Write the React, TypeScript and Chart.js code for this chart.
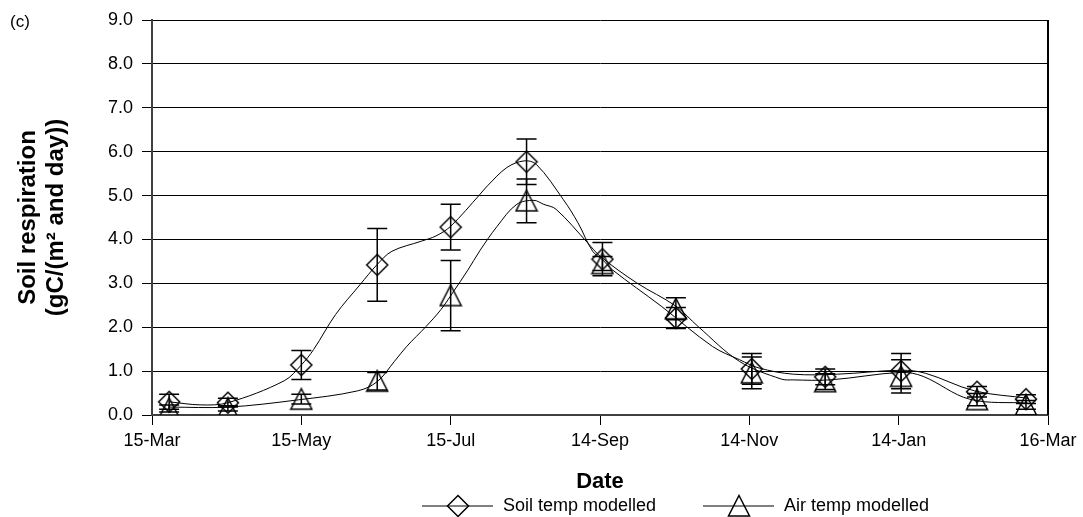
import React, { useEffect, useRef } from "react";
import { Chart, registerables } from "chart.js";

Chart.register(...registerables);

// x values: days after 15-Mar
const tickDays = [0, 61, 122, 183, 244, 305, 366];
const tickLabels = ["15-Mar", "15-May", "15-Jul", "14-Sep", "14-Nov", "14-Jan", "16-Mar"];
const yTicks = [0, 1, 2, 3, 4, 5, 6, 7, 8, 9];

// measurement dates (marker positions)
const measDays = [7, 31, 61, 92, 122, 153, 184, 214, 245, 275, 306, 337, 357];
const soilObs = [0.3, 0.28, 1.14, 3.42, 4.28, 5.77, 3.55, 2.21, 1.05, 0.87, 1.0, 0.53, 0.36];
const soilErr = [0.17, 0.1, 0.33, 0.83, 0.52, 0.52, 0.38, 0.24, 0.35, 0.18, 0.4, 0.12, 0.1];
const airObs = [0.15, 0.15, 0.36, 0.77, 2.72, 4.88, 3.45, 2.42, 0.96, 0.76, 0.88, 0.35, 0.23];
const airErr = [0.08, 0.06, 0.11, 0.2, 0.8, 0.5, 0.16, 0.25, 0.36, 0.18, 0.38, 0.14, 0.1];

// modelled curves
const soilLineDays = [7, 20, 31, 54, 61, 66, 75, 85, 92, 98, 110, 116, 122, 134, 137, 145, 152, 157, 168, 174, 180, 184, 188, 208, 229, 240, 248, 262, 280, 306, 316, 336, 358];
const soilLineVals = [0.3, 0.23, 0.28, 0.78, 1.14, 1.49, 2.29, 2.97, 3.43, 3.73, 3.96, 4.08, 4.3, 5.03, 5.22, 5.64, 5.79, 5.71, 4.91, 4.38, 3.73, 3.54, 3.31, 2.48, 1.56, 1.26, 1.07, 0.93, 0.93, 1.02, 0.95, 0.55, 0.38];
const airLineDays = [7, 31, 59, 84, 92, 99, 104, 112, 118, 123, 129, 134, 141, 149, 156, 160, 165, 178, 183, 198, 214, 223, 240, 257, 262, 277, 306, 315, 334, 358];
const airLineVals = [0.18, 0.18, 0.34, 0.55, 0.76, 1.22, 1.56, 2.02, 2.4, 2.8, 3.3, 3.75, 4.3, 4.8, 4.89, 4.8, 4.69, 3.92, 3.62, 3.01, 2.48, 2.02, 1.22, 0.82, 0.8, 0.8, 0.97, 0.88, 0.36, 0.27];

const legendLabels = ["Soil temp modelled", "Air temp modelled"];

const TXT = "'Liberation Sans', Arial, sans-serif";

function makeDiamond(): HTMLCanvasElement {
  const c = document.createElement("canvas");
  c.width = 24;
  c.height = 24;
  const g = c.getContext("2d")!;
  g.strokeStyle = "#000";
  g.lineWidth = 1.5;
  g.beginPath();
  g.moveTo(12, 1.5);
  g.lineTo(22.5, 12);
  g.lineTo(12, 22.5);
  g.lineTo(1.5, 12);
  g.closePath();
  g.stroke();
  return c;
}

function makeTriangle(): HTMLCanvasElement {
  const c = document.createElement("canvas");
  c.width = 24;
  c.height = 24;
  const g = c.getContext("2d")!;
  g.strokeStyle = "#000";
  g.lineWidth = 1.5;
  g.beginPath();
  g.moveTo(12, 1.5);
  g.lineTo(22.5, 22);
  g.lineTo(1.5, 22);
  g.closePath();
  g.stroke();
  return c;
}

export default function App() {
  const ref = useRef<HTMLCanvasElement | null>(null);

  useEffect(() => {
    if (!ref.current) return;
    const diamond = makeDiamond();
    const triangle = makeTriangle();

    const errorBars = {
      id: "errorBars",
      afterDatasetsDraw(chart: any) {
        const { ctx, scales } = chart;
        const xs = scales.x;
        const ys = scales.y;
        ctx.save();
        ctx.strokeStyle = "#000";
        ctx.lineWidth = 1.5;
        const draw = (vals: number[], errs: number[]) => {
          vals.forEach((v, i) => {
            const x = xs.getPixelForValue(measDays[i]);
            const y1 = ys.getPixelForValue(v - errs[i]);
            const y2 = ys.getPixelForValue(v + errs[i]);
            ctx.beginPath();
            ctx.moveTo(x, y1);
            ctx.lineTo(x, y2);
            ctx.moveTo(x - 10, y1);
            ctx.lineTo(x + 10, y1);
            ctx.moveTo(x - 10, y2);
            ctx.lineTo(x + 10, y2);
            ctx.stroke();
          });
        };
        draw(soilObs, soilErr);
        draw(airObs, airErr);
        ctx.restore();
      },
    };

    const decor = {
      id: "decor",
      afterDraw(chart: any) {
        const { ctx, chartArea } = chart;
        ctx.save();
        // right frame
        ctx.strokeStyle = "#000";
        ctx.lineWidth = 2;
        ctx.beginPath();
        ctx.moveTo(chartArea.right, chartArea.top);
        ctx.lineTo(chartArea.right, chartArea.bottom);
        ctx.stroke();

        ctx.fillStyle = "#000";
        // panel label
        ctx.font = `17px ${TXT}`;
        ctx.textAlign = "left";
        ctx.textBaseline = "alphabetic";
        ctx.fillText("(c)", 10, 27);

        // x title
        ctx.font = `bold 22px ${TXT}`;
        ctx.textAlign = "center";
        ctx.textBaseline = "middle";
        ctx.fillText("Date", (chartArea.left + chartArea.right) / 2, 482);

        // y title
        const cy = (chartArea.top + chartArea.bottom) / 2;
        ctx.font = `bold 24px ${TXT}`;
        ctx.textBaseline = "alphabetic";
        ctx.save();
        ctx.translate(35, cy);
        ctx.rotate(-Math.PI / 2);
        ctx.fillText("Soil respiration", 0, 0);
        ctx.restore();
        ctx.save();
        ctx.translate(63, cy);
        ctx.rotate(-Math.PI / 2);
        ctx.fillText("(gC/(m\u00B2 and day))", 0, 0);
        ctx.restore();

        // legend
        const ly = 506;
        const items = [
          { x0: 422, img: diamond, label: legendLabels[0] },
          { x0: 703, img: triangle, label: legendLabels[1] },
        ];
        ctx.font = `18px ${TXT}`;
        ctx.textAlign = "left";
        ctx.textBaseline = "middle";
        items.forEach((it) => {
          ctx.strokeStyle = "#000";
          ctx.lineWidth = 1;
          ctx.beginPath();
          ctx.moveTo(it.x0, ly);
          ctx.lineTo(it.x0 + 71, ly);
          ctx.stroke();
          ctx.drawImage(it.img, it.x0 + 36 - 12, ly - 12);
          ctx.fillText(it.label, it.x0 + 81, ly);
        });
        ctx.restore();
      },
    };

    const chart = new Chart(ref.current, {
      type: "line",
      data: {
        datasets: [
          {
            label: "soilLine",
            data: soilLineDays.map((d, i) => ({ x: d, y: soilLineVals[i] })),
            borderColor: "#000",
            borderWidth: 1,
            pointRadius: 0,
            tension: 0.35,
            fill: false,
          },
          {
            label: "airLine",
            data: airLineDays.map((d, i) => ({ x: d, y: airLineVals[i] })),
            borderColor: "#000",
            borderWidth: 1,
            pointRadius: 0,
            tension: 0.35,
            fill: false,
          },
          {
            label: legendLabels[0],
            data: measDays.map((d, i) => ({ x: d, y: soilObs[i] })),
            showLine: false,
            pointStyle: diamond as any,
            pointRadius: 12,
            borderColor: "#000",
          },
          {
            label: legendLabels[1],
            data: measDays.map((d, i) => ({ x: d, y: airObs[i] })),
            showLine: false,
            pointStyle: triangle as any,
            pointRadius: 12,
            borderColor: "#000",
          },
        ],
      },
      options: {
        responsive: false,
        animation: false,
        devicePixelRatio: 1,
        layout: { padding: { left: 0, right: 35, top: 20, bottom: 0 } },
        plugins: {
          legend: { display: false },
          tooltip: { enabled: false },
          title: { display: false },
        },
        scales: {
          x: {
            type: "linear",
            min: tickDays[0],
            max: tickDays[tickDays.length - 1],
            afterBuildTicks: (s: any) => {
              s.ticks = tickDays.map((v) => ({ value: v }));
            },
            afterFit: (s: any) => {
              s.height = 102;
            },
            ticks: {
              autoSkip: false,
              maxRotation: 0,
              padding: 5,
              color: "#000",
              font: { family: TXT, size: 18 },
              callback: (v: any) => {
                const i = tickDays.indexOf(Number(v));
                return i >= 0 ? tickLabels[i] : "";
              },
            },
            grid: { drawOnChartArea: false, drawTicks: true, tickLength: 10, color: "#000", lineWidth: 1 },
            border: { color: "#404040", width: 2 },
          },
          y: {
            min: yTicks[0],
            max: yTicks[yTicks.length - 1],
            afterBuildTicks: (s: any) => {
              s.ticks = yTicks.map((v) => ({ value: v }));
            },
            afterFit: (s: any) => {
              s.width = 152;
            },
            ticks: {
              padding: 9,
              color: "#000",
              font: { family: TXT, size: 18 },
              callback: (v: any) => Number(v).toFixed(1),
            },
            grid: { color: "#000", lineWidth: 1, tickLength: 10, drawTicks: true },
            border: { color: "#404040", width: 2 },
          },
        },
      },
      plugins: [errorBars, decor],
    });
    return () => chart.destroy();
  }, []);

  return (
    <div style={{ position: "absolute", left: 0, top: 0, width: 1083, height: 517, background: "#fff" }}>
      <canvas ref={ref} width={1083} height={517} style={{ display: "block", width: 1083, height: 517 }} />
    </div>
  );
}
